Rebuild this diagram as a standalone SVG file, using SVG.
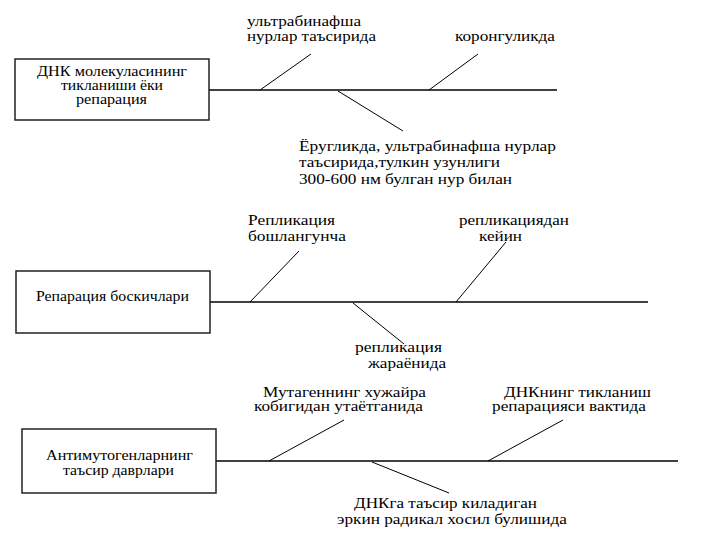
<svg xmlns="http://www.w3.org/2000/svg" width="720" height="540" viewBox="0 0 720 540">
<style>
.box{fill:#fff;stroke:#222;stroke-width:1.5}
.spine{stroke:#000;stroke-width:1.3;fill:none}
.rib{stroke:#000;stroke-width:1;fill:none}
</style>
<rect width="720" height="540" fill="#fff"/>
<g id="connectors">
<line class="spine" x1="209" y1="90" x2="557" y2="90"/>
<line class="rib" x1="260" y1="90" x2="311" y2="54"/>
<line class="rib" x1="429" y1="90" x2="478" y2="54"/>
<line class="rib" x1="338" y1="91" x2="403" y2="131"/>
<line class="spine" x1="210" y1="302" x2="648" y2="302"/>
<line class="rib" x1="250" y1="302" x2="299" y2="251"/>
<line class="rib" x1="456" y1="302" x2="506" y2="242"/>
<line class="rib" x1="353" y1="303" x2="404" y2="344"/>
<line class="spine" x1="216" y1="461" x2="678" y2="461"/>
<line class="rib" x1="269" y1="461" x2="344" y2="420"/>
<line class="rib" x1="488" y1="461" x2="563" y2="420"/>
<line class="rib" x1="372" y1="462" x2="449" y2="493"/>
</g>
<g font-family="Liberation Serif, DejaVu Serif, serif" font-size="14" fill="#000" lengthAdjust="spacingAndGlyphs">
<g id="node1">
<rect class="box" x="15" y="59" width="194" height="61"/>
<text x="37" y="76" textLength="150" lengthAdjust="spacingAndGlyphs">ДНК молекуласининг</text>
<text x="61" y="90" textLength="102" lengthAdjust="spacingAndGlyphs">тикланиши ёки</text>
<text x="76" y="104" textLength="71" lengthAdjust="spacingAndGlyphs">репарация</text>
</g>
<g id="label1a">
<text x="247" y="26" textLength="114" lengthAdjust="spacingAndGlyphs">ультрабинафша</text>
<text x="247" y="41" textLength="129" lengthAdjust="spacingAndGlyphs">нурлар таъсирида</text>
</g>
<g id="label1b">
<text x="455" y="41" textLength="100" lengthAdjust="spacingAndGlyphs">коронгуликда</text>
</g>
<g id="label1c">
<text x="299" y="151" textLength="257" lengthAdjust="spacingAndGlyphs">Ёругликда, ультрабинафша нурлар</text>
<text x="299" y="167" textLength="201" lengthAdjust="spacingAndGlyphs">таъсирида,тулкин узунлиги</text>
<text x="299" y="184" textLength="213" lengthAdjust="spacingAndGlyphs">300-600 нм булган нур билан</text>
</g>
<g id="node2">
<rect class="box" x="16" y="271" width="194" height="62"/>
<text x="36" y="301" textLength="153" lengthAdjust="spacingAndGlyphs">Репарация боскичлари</text>
</g>
<g id="label2a">
<text x="248" y="225" textLength="87" lengthAdjust="spacingAndGlyphs">Репликация</text>
<text x="248" y="241" textLength="98" lengthAdjust="spacingAndGlyphs">бошлангунча</text>
</g>
<g id="label2b">
<text x="459" y="225" textLength="110" lengthAdjust="spacingAndGlyphs">репликациядан</text>
<text x="479" y="241" textLength="43" lengthAdjust="spacingAndGlyphs">кейин</text>
</g>
<g id="label2c">
<text x="355" y="352" textLength="87" lengthAdjust="spacingAndGlyphs">репликация</text>
<text x="368" y="368" textLength="78" lengthAdjust="spacingAndGlyphs">жараёнида</text>
</g>
<g id="node3">
<rect class="box" x="22" y="429" width="194" height="64"/>
<text x="46" y="460" textLength="147" lengthAdjust="spacingAndGlyphs">Антимутогенларнинг</text>
<text x="63" y="475" textLength="111" lengthAdjust="spacingAndGlyphs">таъсир даврлари</text>
</g>
<g id="label3a">
<text x="263" y="397" textLength="163" lengthAdjust="spacingAndGlyphs">Мутагеннинг хужайра</text>
<text x="254" y="411" textLength="169" lengthAdjust="spacingAndGlyphs">кобигидан утаётганида</text>
</g>
<g id="label3b">
<text x="504" y="397" textLength="147" lengthAdjust="spacingAndGlyphs">ДНКнинг тикланиш</text>
<text x="492" y="411" textLength="154" lengthAdjust="spacingAndGlyphs">репарацияси вактида</text>
</g>
<g id="label3c">
<text x="354" y="508" textLength="183" lengthAdjust="spacingAndGlyphs">ДНКга таъсир киладиган</text>
<text x="337" y="524" textLength="230" lengthAdjust="spacingAndGlyphs">эркин радикал хосил булишида</text>
</g>
</g>
</svg>
